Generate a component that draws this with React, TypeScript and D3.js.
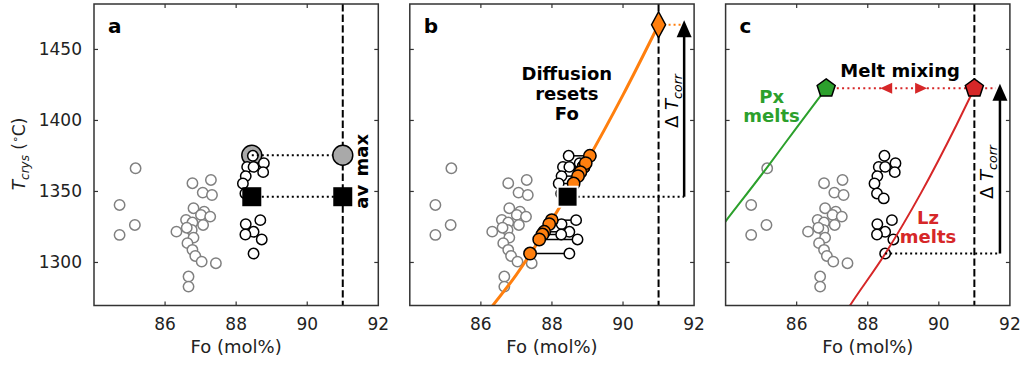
import React from 'react';
import * as d3 from 'd3';

// ---------- data ----------
const xTicks = [86, 88, 90, 92];
const yTicks = [1300, 1350, 1400, 1450];
const panelLetters = ['a', 'b', 'c'];

// grey open circles (other olivines)
const grayFo = [85.17, 84.72, 85.15, 84.72, 86.77, 87.29, 87.06, 87.32, 86.80, 87.10, 87.01, 87.27, 86.59, 86.77, 87.07, 86.32, 86.75, 86.61, 86.80, 86.63, 86.77, 86.85, 87.03, 87.43, 86.66, 86.66];
const grayT = [1366.3, 1340.5, 1326.4, 1319.4, 1355.8, 1358.1, 1349.2, 1347.5, 1338.2, 1335.8, 1333.5, 1332.3, 1330.0, 1328.1, 1326.4, 1321.7, 1322.9, 1324.5, 1317.5, 1313.6, 1308.9, 1304.6, 1300.6, 1299.5, 1290.1, 1283.0];

// black open circles
const blackFo = [88.47, 88.31, 88.49, 88.78, 88.76, 88.27, 88.19, 88.26, 88.45, 88.68, 88.27, 88.49, 88.26, 88.72, 88.49];
const blackT = [1375.1, 1367.3, 1367.3, 1369.9, 1363.6, 1360.8, 1355.6, 1348.6, 1345.1, 1329.8, 1327.0, 1321.6, 1319.7, 1316.2, 1306.3];

const avFo = 88.44;
const avT = 1346.3;
const maxT = 1375.5;
const correctedFo = 91;
const arrowFo = 91.72;
const diamondT = 1467.4;
const mixT = 1422.6;
const pxEndFo = 86.83;
const mixArrowTips = [88.35, 89.67];
const lowestFo = 88.49;
const lowestT = 1306.3;

// model curves
const diffusionFo = [86.2, 87, 88, 89, 90, 91];
const diffusionT = [1265.5, 1291.5, 1330, 1372, 1418, 1467.4];
const pxFo = [83.8, 84, 85.17, 86.0, 86.83];
const pxT = [1322.5, 1329, 1367, 1395, 1422.6];
const lzFo = [87.4, 87.5, 88.5, 89.5, 90.5, 91];
const lzT = [1265.8, 1269.7, 1306.5, 1349, 1397, 1422.6];

// ---------- layout ----------
const W = 1023;
const H = 365;
const PW = 284.3;
const lefts = [94, 409.8, 725.6];
const TOP = 4;
const BOTTOM = 305.5;
const FONT = 'DejaVu Sans, Verdana, sans-serif';
const R = 5.2;

const yScale = d3.scaleLinear().domain([1269.7, 1482]).range([BOTTOM, TOP]);

const ORANGE = '#ff7f0e';
const GREEN = '#2ca02c';
const RED = '#d62728';
const GRAY = '#808080';

function pentagon(cx: number, cy: number, r: number) {
  const pts = d3.range(5).map((k) => {
    const a = (-90 + k * 72) * Math.PI / 180;
    return [cx + r * Math.cos(a), cy + r * Math.sin(a)];
  });
  return 'M' + pts.map((p) => p.join(',')).join('L') + 'Z';
}

function UpArrow({ x, y0, yTip }: { x: number; y0: number; yTip: number }) {
  const hl = 17;
  const hw = 7.5;
  return (
    <g>
      <line x1={x} x2={x} y1={y0} y2={yTip + hl - 1} stroke="#000" strokeWidth={2.5} />
      <path d={`M${x},${yTip}L${x + hw},${yTip + hl}L${x - hw},${yTip + hl}Z`} fill="#000" />
    </g>
  );
}

function DeltaLabel({ cx, cy }: { cx: number; cy: number }) {
  return (
    <text transform={`translate(${cx + 6},${cy}) rotate(-90)`} textAnchor="middle" fontSize={18} fontFamily={FONT} fill="#000">
      Δ <tspan fontStyle="italic">T</tspan>
      <tspan fontStyle="italic" fontSize={12.5} dy={4}>corr</tspan>
    </text>
  );
}

function Panel({ idx }: { idx: number }) {
  const left = lefts[idx];
  const x = d3.scaleLinear().domain([84, 92]).range([left, left + PW]);
  const y = yScale;
  const clipId = `clip${idx}`;
  const line = d3.line<[number, number]>().x((d) => x(d[0])).y((d) => y(d[1])).curve(d3.curveMonotoneX);

  const grayCircles = grayFo.map((f, i) => (
    <circle key={`g${i}`} cx={x(f)} cy={y(grayT[i])} r={R} fill="#fff" stroke={GRAY} strokeWidth={1.5} />
  ));
  const blackCircles = blackFo.map((f, i) => (
    <circle key={`k${i}`} cx={x(f)} cy={y(blackT[i])} r={R} fill="#fff" stroke="#000" strokeWidth={1.5} />
  ));
  const dashed = (
    <line x1={x(correctedFo)} x2={x(correctedFo)} y1={TOP} y2={BOTTOM} stroke="#000" strokeWidth={2} strokeDasharray="7.4,3.2" />
  );

  let content: React.ReactNode = null;
  if (idx === 0) {
    content = (
      <g>
        {grayCircles}
        <circle cx={x(avFo)} cy={y(maxT)} r={10} fill="#a9a9a9" stroke="#000" strokeWidth={1.5} />
        {blackCircles}
        <line x1={x(avFo)} x2={x(correctedFo)} y1={y(maxT)} y2={y(maxT)} stroke="#000" strokeWidth={2} strokeDasharray="2,3" />
        <line x1={x(avFo)} x2={x(correctedFo)} y1={y(avT)} y2={y(avT)} stroke="#000" strokeWidth={2} strokeDasharray="2,3" />
        {dashed}
        <rect x={x(avFo) - 9.5} y={y(avT) - 9.5} width={19} height={19} fill="#000" />
        <rect x={x(correctedFo) - 9.5} y={y(avT) - 9.5} width={19} height={19} fill="#000" />
        <circle cx={x(correctedFo)} cy={y(maxT)} r={10} fill="#a9a9a9" stroke="#000" strokeWidth={1.5} />
        <text transform={`translate(${left + 274},${y(avT)}) rotate(-90)`} textAnchor="middle" fontSize={18} fontWeight="bold" fontFamily={FONT}>av</text>
        <text transform={`translate(${left + 274},${y(maxT)}) rotate(-90)`} textAnchor="middle" fontSize={18} fontWeight="bold" fontFamily={FONT}>max</text>
      </g>
    );
  } else if (idx === 1) {
    const invDiff = d3.scaleLinear().domain(diffusionT).range(diffusionFo);
    const orangeFo = blackT.map((t) => invDiff(t));
    const curve = line(diffusionFo.map((f, i) => [f, diffusionT[i]] as [number, number])) || '';
    content = (
      <g>
        {grayCircles}
        <path d={curve} fill="none" stroke={ORANGE} strokeWidth={3} clipPath={`url(#${clipId})`} />
        {blackFo.map((f, i) => (
          <line key={`c${i}`} x1={x(orangeFo[i])} x2={x(f)} y1={y(blackT[i])} y2={y(blackT[i])} stroke="#000" strokeWidth={1.5} />
        ))}
        {blackCircles}
        {orangeFo.map((f, i) => (
          <circle key={`o${i}`} cx={x(f)} cy={y(blackT[i])} r={6.2} fill={ORANGE} stroke="#000" strokeWidth={1.5} />
        ))}
        <line x1={x(avFo)} x2={x(arrowFo)} y1={y(avT)} y2={y(avT)} stroke="#000" strokeWidth={2} strokeDasharray="2,3" />
        <rect x={x(avFo) - 10} y={y(avT) - 10} width={20} height={20} fill="#000" stroke="#fff" strokeWidth={2} />
        {dashed}
        <line x1={x(correctedFo)} x2={x(arrowFo)} y1={y(diamondT)} y2={y(diamondT)} stroke={ORANGE} strokeWidth={2} strokeDasharray="2,3" />
        <path
          d={`M${x(correctedFo)},${y(diamondT) - 13}L${x(correctedFo) + 7},${y(diamondT)}L${x(correctedFo)},${y(diamondT) + 13}L${x(correctedFo) - 7},${y(diamondT)}Z`}
          fill={ORANGE}
          stroke="#000"
          strokeWidth={1.5}
        />
        <UpArrow x={x(arrowFo)} y0={y(avT)} yTip={y(diamondT) - 4.6} />
        <DeltaLabel cx={left + 262} cy={101} />
        <g fontSize={18} fontWeight="bold" fontFamily={FONT} textAnchor="middle">
          <text x={left + 157} y={80}>Diffusion</text>
          <text x={left + 157} y={100}>resets</text>
          <text x={left + 157} y={120}>Fo</text>
        </g>
      </g>
    );
  } else {
    const pxCurve = line(pxFo.map((f, i) => [f, pxT[i]] as [number, number])) || '';
    const lzCurve = line(lzFo.map((f, i) => [f, lzT[i]] as [number, number])) || '';
    const ym = y(mixT);
    const [lt, rt] = mixArrowTips;
    content = (
      <g>
        {grayCircles}
        {blackCircles}
        <path d={pxCurve} fill="none" stroke={GREEN} strokeWidth={2} clipPath={`url(#${clipId})`} />
        <path d={lzCurve} fill="none" stroke={RED} strokeWidth={2} clipPath={`url(#${clipId})`} />
        {dashed}
        <line x1={x(pxEndFo)} x2={x(arrowFo) - 4} y1={ym} y2={ym} stroke={RED} strokeWidth={2} strokeDasharray="2,3.3" />
        <path d={`M${x(lt)},${ym}L${x(lt) + 12},${ym - 5.5}L${x(lt) + 12},${ym + 5.5}Z`} fill={RED} />
        <path d={`M${x(rt)},${ym}L${x(rt) - 12},${ym - 5.5}L${x(rt) - 12},${ym + 5.5}Z`} fill={RED} />
        <path d={pentagon(x(pxEndFo), ym, 9.5)} fill={GREEN} stroke="#000" strokeWidth={1.5} />
        <path d={pentagon(x(correctedFo), ym, 9.5)} fill={RED} stroke="#000" strokeWidth={1.5} />
        <line x1={x(lowestFo)} x2={x(arrowFo)} y1={y(lowestT)} y2={y(lowestT)} stroke="#000" strokeWidth={2} strokeDasharray="2,3" />
        <UpArrow x={x(arrowFo)} y0={y(lowestT)} yTip={ym - 4.5} />
        <DeltaLabel cx={left + 261} cy={172} />
        <g fontSize={18} fontWeight="bold" fontFamily={FONT} textAnchor="middle">
          <text x={left + 174.5} y={77} fill="#000">Melt mixing</text>
          <text x={left + 46} y={103} fill={GREEN}>Px</text>
          <text x={left + 46} y={122} fill={GREEN}>melts</text>
          <text x={left + 202.5} y={224} fill={RED}>Lz</text>
          <text x={left + 202.5} y={243} fill={RED}>melts</text>
        </g>
      </g>
    );
  }

  return (
    <g>
      <defs>
        <clipPath id={clipId}>
          <rect x={left} y={TOP} width={PW} height={BOTTOM - TOP} />
        </clipPath>
      </defs>
      <rect x={left} y={TOP} width={PW} height={BOTTOM - TOP} fill="#fff" />
      {content}
      {xTicks.filter((t) => t < 92).map((t) => (
        <g key={`xt${t}`} stroke="#333" strokeWidth={1.2}>
          <line x1={x(t)} x2={x(t)} y1={BOTTOM} y2={BOTTOM - 4} />
          <line x1={x(t)} x2={x(t)} y1={TOP} y2={TOP + 4} />
        </g>
      ))}
      {yTicks.map((t) => (
        <g key={`yt${t}`} stroke="#333" strokeWidth={1.2}>
          <line x1={left} x2={left + 4} y1={y(t)} y2={y(t)} />
          <line x1={left + PW} x2={left + PW - 4} y1={y(t)} y2={y(t)} />
        </g>
      ))}
      <rect x={left} y={TOP} width={PW} height={BOTTOM - TOP} fill="none" stroke="#333" strokeWidth={1.5} />
      {xTicks.map((t) => (
        <text key={`xl${t}`} x={x(t)} y={330} textAnchor="middle" fontSize={17} fontFamily={FONT} fill="#222">{t}</text>
      ))}
      {idx === 0 &&
        yTicks.map((t) => (
          <text key={`yl${t}`} x={left - 12} y={y(t) + 6} textAnchor="end" fontSize={17} fontFamily={FONT} fill="#222">{t}</text>
        ))}
      <text x={left + PW / 2} y={353} textAnchor="middle" fontSize={18} fontFamily={FONT} fill="#222">Fo (mol%)</text>
      <text x={left + 14} y={33} fontSize={20} fontWeight="bold" fontFamily={FONT} fill="#000">{panelLetters[idx]}</text>
    </g>
  );
}

export default function App() {
  return (
    <svg width={W} height={H} viewBox={`0 0 ${W} ${H}`} style={{ position: 'absolute', left: 0, top: 0, background: '#fff' }}>
      <rect x={0} y={0} width={W} height={H} fill="#fff" />
      {[0, 1, 2].map((i) => (
        <Panel key={i} idx={i} />
      ))}
      <text transform="translate(25,154) rotate(-90)" textAnchor="middle" fontSize={17} fontFamily={FONT} fill="#222">
        <tspan fontStyle="italic">T</tspan>
        <tspan fontStyle="italic" fontSize={12} dy={4}>crys</tspan>
        <tspan dy={-4}> (</tspan>
        <tspan fontSize={11} dy={-6}>∘</tspan>
        <tspan dy={6}>C)</tspan>
      </text>
    </svg>
  );
}
